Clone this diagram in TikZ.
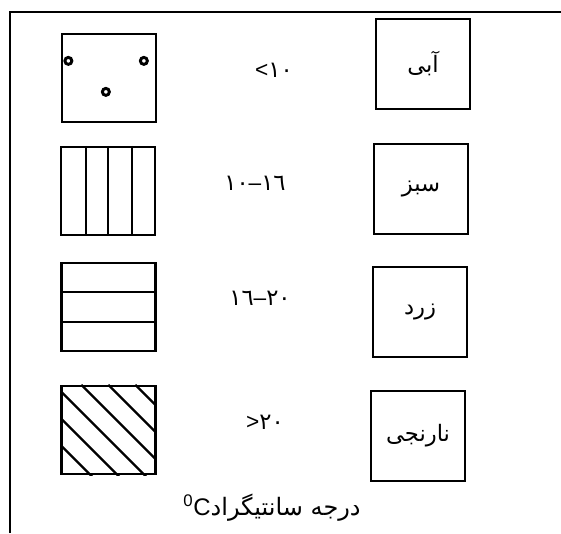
\documentclass[tikz,border=0pt]{standalone}
\usepackage{fontspec}
\setmainfont{Liberation Sans}
\newfontfamily\arabicfont[Script=Arabic]{DejaVu Sans}
\newfontfamily\digitfont{DejaVu Sans}
\TeXXeTstate=1
\usetikzlibrary{calc}

\begin{document}
\begin{tikzpicture}[x=0.75pt,y=-0.75pt,line width=1.7pt,
		keybox/.style={draw,minimum width=70.5pt,minimum height=66pt,inner sep=0pt},
		namebox/.style={draw,minimum width=70.5pt,minimum height=68pt,inner sep=0pt,font=\arabicfont\fontsize{17}{19}\selectfont},
		rangelabel/.style={font=\fontsize{17}{19}\selectfont}]
	\useasboundingbox (0,0) rectangle (561,533);
	\draw[line width=2pt] (10,533) -- (10,12) -- (561,12);
	% pattern keys
	\node[keybox] (k1) at (109,78) {};
	\node[keybox] (k2) at (108,191) {};
	\node[keybox] (k3) at (108.5,307) {};
	\node[keybox] (k4) at (108.5,430) {};
	\draw[line width=2.2pt] (k1.north west) ++(7.5,28) circle (3.5) (k1.north west) ++(83,28) circle (3.5) (k1.north west) ++(45,59) circle (3.5);
	\foreach \f in {0.27,0.5,0.75}
		\draw ($(k2.north west)!\f!(k2.north east)$) -- ($(k2.south west)!\f!(k2.south east)$);
	\foreach \f in {0.33,0.67}
		\draw ($(k3.north west)!\f!(k3.south west)$) -- ($(k3.north east)!\f!(k3.south east)$);
	\begin{scope}
		\clip (k4.north west) rectangle (k4.south east);
		\foreach \c in {-60,-33,-6,21,48,75}
			\draw ($(k4.north west)+(\c,0)$) -- ++(120,120);
	\end{scope}
	% ranges
	\node[rangelabel] (r1) at (274,70) {<{\digitfont ١٠}};
	\node[rangelabel] (r2) at (255,183) {{\digitfont ١٠}–{\digitfont ١٦}};
	\node[rangelabel] (r3) at (260,298) {{\digitfont ١٦}–{\digitfont ٢٠}};
	\node[rangelabel] (r4) at (265,422) {>{\digitfont ٢٠}};
	% colour names
	\node[namebox] (n1) at (423,64) {\beginR آبی\endR};
	\node[namebox] (n2) at (421,189) {\beginR سبز\endR};
	\node[namebox] (n3) at (420,312) {\beginR زرد\endR};
	\node[namebox] (n4) at (418,436) {\beginR نارنجی\endR};
	\node[font=\fontsize{18}{20}\selectfont] (unit) at (272,508) {\raisebox{1pt}{\textsuperscript{0}}C{\arabicfont\beginR درجه سانتیگراد\endR}};
\end{tikzpicture}
\end{document}
